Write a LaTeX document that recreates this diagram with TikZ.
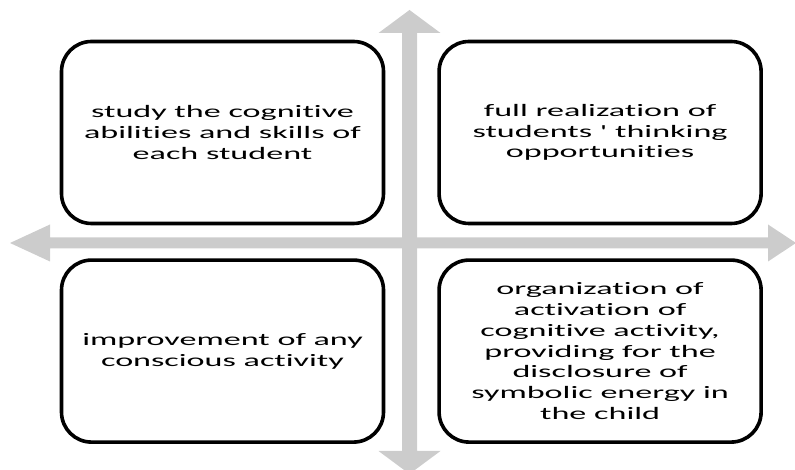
\documentclass[tikz,border=0pt]{standalone}
\usepackage{fontspec}
\newfontfamily\boxfont[FakeStretch=1.95, Ligatures=NoCommon]{Carlito}
\usepackage{xcolor}
\usepackage{tikz}
\usetikzlibrary{positioning}
\definecolor{axisgray}{RGB}{204,204,204}
\tikzstyle{quadrant} = [rectangle, rounded corners=30pt, minimum width=322pt, minimum height=182pt, line width=3.6pt, draw=black, fill=white, text centered, align=center, font=\boxfont\fontsize{17.5}{20.7}\selectfont]
\tikzstyle{axis} = [fill=axisgray, draw=none]

\begin{document}
\begin{tikzpicture}[x=1pt, y=1pt, node distance=52pt]
   \useasboundingbox (0,0) rectangle (795,470);
   \clip (0,0) rectangle (795,470);

   % the grey cross
   \fill [axis] (402,437) -- (378.5,437) -- (409.5,460) -- (440.5,437) -- (417,437)
      -- (417,19) -- (440.5,19) -- (409.5,-4) -- (378.5,19) -- (402,19) -- cycle;
   \fill [axis] (50,221.5) -- (50,208.5) -- (10,227) -- (50,245.5) -- (50,232.5)
      -- (768,232.5) -- (768,245.5) -- (796,227) -- (768,208.5) -- (768,221.5) -- cycle;

   \node (study) [quadrant] at (222.5,337.5) {study the cognitive\\abilities and skills of\\each student};
   \node (full) [quadrant, right=of study] {full realization of\\students ' thinking\\opportunities};
   \node (improve) [quadrant, below=33pt of study] {improvement of any\\conscious activity};
   \node (organize) [quadrant, right=of improve] {organization of\\activation of\\cognitive activity,\\providing for the\\disclosure of\\symbolic energy in\\the child};
\end{tikzpicture}
\end{document}
